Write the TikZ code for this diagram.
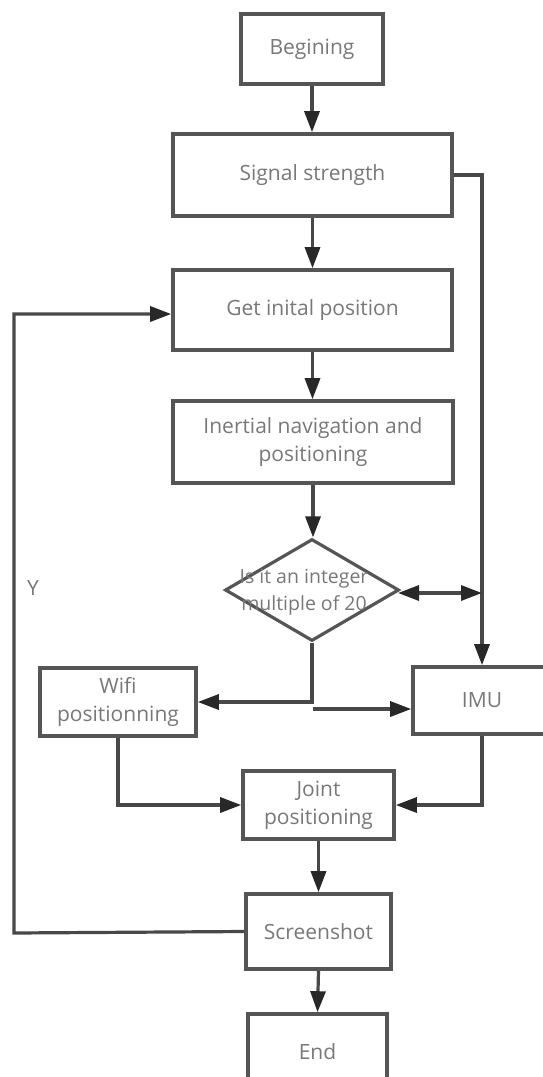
\documentclass[tikz,border=0pt]{standalone}
\usepackage{fontspec}
\setmainfont{Open Sans}
\usetikzlibrary{arrows.meta,shapes.geometric}
\definecolor{boxc}{RGB}{85,85,85}
\definecolor{arrc}{RGB}{72,72,72}
\definecolor{headc}{RGB}{40,40,40}
\definecolor{txtc}{RGB}{120,120,120}
\begin{document}
\begin{tikzpicture}[x=1pt,y=-1pt,
  box/.style={draw=boxc, line width=3.6pt, rectangle, inner sep=0pt, fill=white,
              align=center, text=txtc, font=\fontsize{21}{28}\selectfont},
  txt/.style={inner sep=0pt, align=center, text=txtc, font=\fontsize{21}{28}\selectfont},
  tip/.tip={Triangle[length=21pt,width=15pt,color=headc]},
  arr/.style={draw=arrc, line width=3.2pt, -tip},
  darr/.style={draw=arrc, line width=3.2pt, tip-tip}]
\clip (0,0) rectangle (543,1077);
\fill[white] (0,0) rectangle (543,1077);

% nodes
\node[box, minimum width=142pt, minimum height=70pt] (beg) at (312,49) {Begining};
\node[box, minimum width=279pt, minimum height=82pt] (sig) at (312.5,175) {Signal strength};
\node[box, minimum width=279pt, minimum height=80pt] (get) at (312.5,310) {Get inital position};
\node[box, minimum width=280pt, minimum height=82pt] (inert) at (313,442) {Inertial navigation and\\positioning};
\node[draw=boxc, line width=3.2pt, diamond, minimum width=174pt, minimum height=102pt, inner sep=0pt, fill=white] (dia) at (312,590) {};
\node[txt, font=\fontsize{19.5}{27}\selectfont] (dtxt) at (304,592) {Is it an integer\\multiple of 20};
\node[box, minimum width=156pt, minimum height=68pt] (wifi) at (118,702) {Wifi\\positionning};
\node[box, minimum width=138pt, minimum height=67pt] (imu) at (482,700.5) {IMU};
\node[box, minimum width=151pt, minimum height=68pt] (joint) at (318.5,805) {Joint\\positioning};
\node[box, minimum width=145pt, minimum height=75pt] (shot) at (318.5,931.5) {Screenshot};
\node[box, minimum width=139pt, minimum height=75pt] (end) at (317.5,1051.5) {End};
\node[txt] (ylab) at (33,588) {Y};

% helper coordinates
\coordinate (sr) at (482,175);
\coordinate (dl) at (398,593);
\coordinate (dr) at (482,593);
\coordinate (ib) at (313,709);
\coordinate (lb) at (14,933);
\coordinate (lt) at (14,314);

% connectors
\draw[arr] (beg.south) -- (beg.south |- sig.north);
\draw[arr] (sig.south) -- (get.north);
\draw[arr] (sig.east) -- (sr) -- (imu.north);
\draw[arr] (get.south) -- (get.south |- inert.north);
\draw[arr] (inert.south) -- (inert.south |- dia.north);
\draw[darr] (dl) -- (dr);
\draw[arr] (dia.south) |- (wifi.east);
\draw[arr] (ib) -- (ib -| imu.west);
\draw[arr] (wifi.south) |- (joint.west);
\draw[arr] (imu.south) |- (joint.east);
\draw[arr] (joint.south) -- (shot.north);
\draw[arr] (shot.west) -- (lb) -- (lt) -- (lt -| get.west);
\draw[arr] (shot.south) -- (end.north);
\end{tikzpicture}
\end{document}
